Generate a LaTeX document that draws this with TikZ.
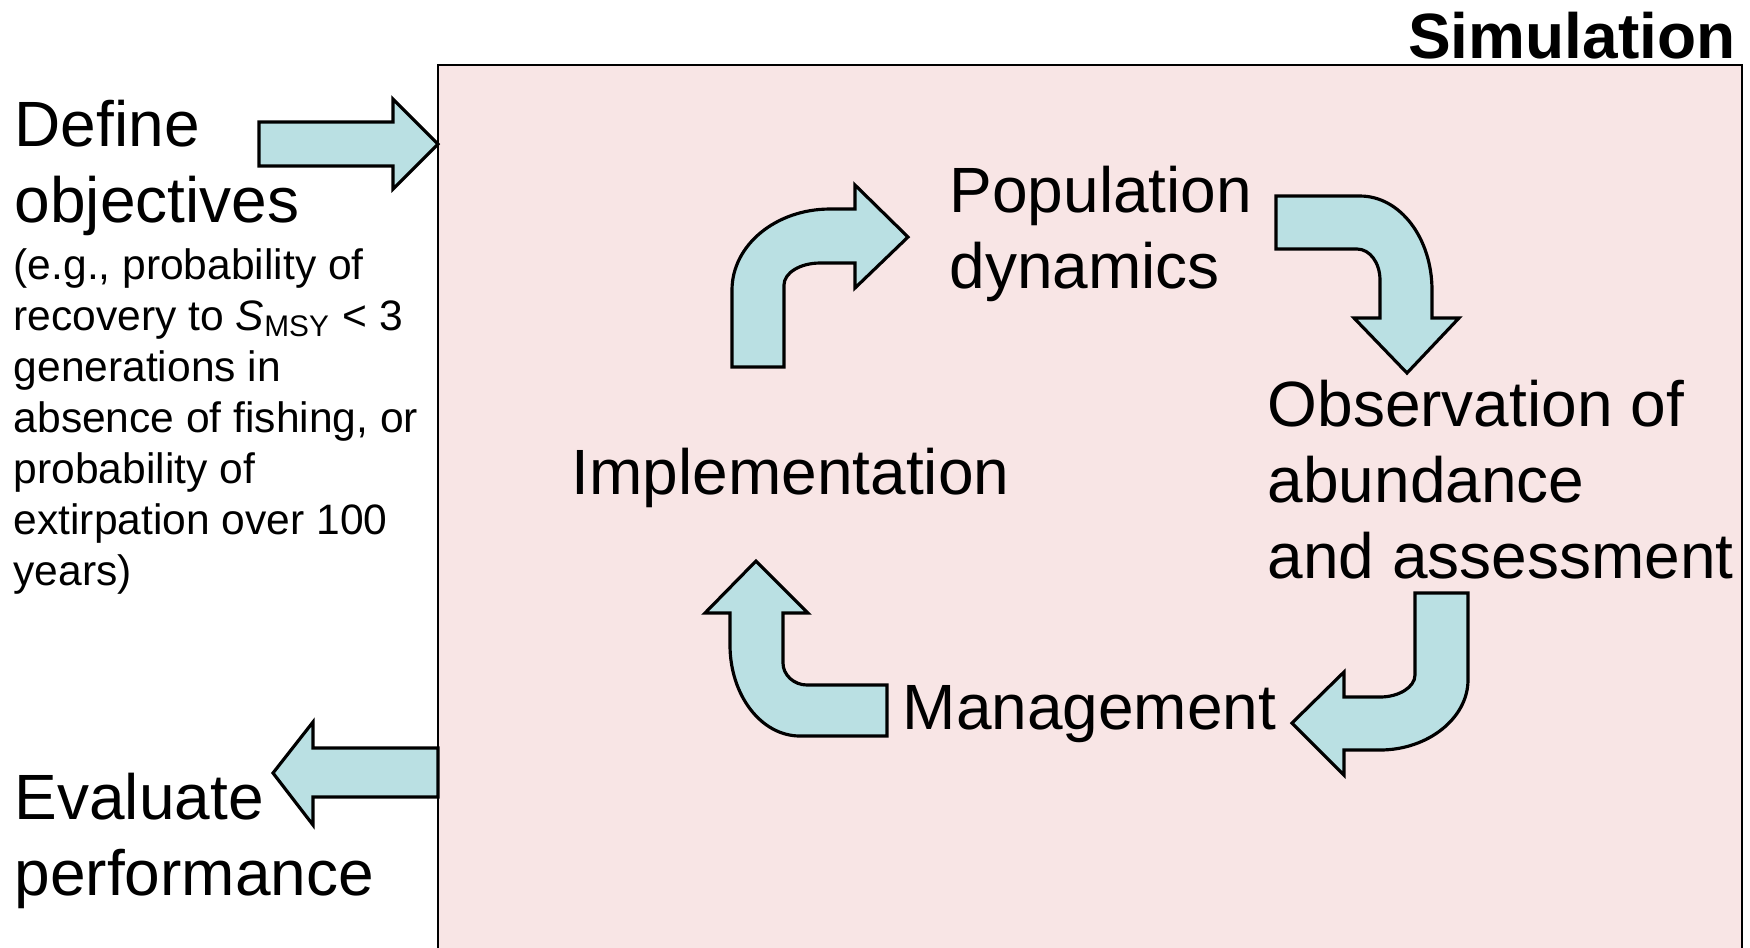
\documentclass[tikz,border=0pt]{standalone}
\usepackage{fontspec}
\setmainfont{Liberation Sans}
\definecolor{simpink}{RGB}{248,229,229}
\definecolor{arrowcyan}{RGB}{186,224,227}
\tikzset{
    blockarrow/.style={draw=black, fill=arrowcyan, line width=0.9pt, line join=miter},
    steplabel/.style={inner sep=0pt, anchor=base west, align=left, font=\fontsize{18.2}{21.6}\selectfont},
    notelabel/.style={inner sep=0pt, anchor=base west, align=left, font=\fontsize{12.1}{14.5}\selectfont}
}

\begin{document}
\begin{tikzpicture}[x=0.01cm, y=-0.01cm]
    \useasboundingbox (0,0) rectangle (1750,947);

    % simulation box
    \draw[fill=simpink, line width=0.8pt] (438,960) -- (438,65) -- (1742,65) -- (1742,960);
    \node[inner sep=0pt, anchor=base east, font=\fontsize{18.2}{21.6}\selectfont\bfseries] (sim) at (1736,58) {Simulation};

    % left side (base = last line)
    \node[steplabel] (define) at (14,222) {Define\\objectives};
    \node[notelabel] (note) at (13,585) {(e.g., probability of\\recovery to \textit{S}\textsubscript{MSY} < 3\\generations in\\absence of fishing, or\\probability of\\extirpation over 100\\years)};
    \node[steplabel] (evaluate) at (14,895) {Evaluate\\performance};

    \draw[blockarrow] (259,122) -- (393,122) -- (393,99) -- (438,144) -- (393,189) -- (393,166) -- (259,166) -- cycle;
    \draw[blockarrow] (438,748) -- (313,748) -- (313,722) -- (273,773) -- (313,825) -- (313,797) -- (438,797) -- cycle;

    % the loop
    \node[steplabel] (popdyn) at (949,288) {Population\\dynamics};
    \node[steplabel] (observe) at (1267,578) {Observation of\\abundance\\and assessment};
    \node[steplabel] (manage) at (902,729) {Management};
    \node[steplabel] (implement) at (571,494) {Implementation};

    \draw[blockarrow] (732,367) -- (732,290) .. controls (732,245) and (776,209) .. (830,209) -- (855,209) -- (855,185) -- (908,237) -- (855,288) -- (855,263) -- (820,263) .. controls (800,263) and (784,273) .. (784,285) -- (784,367) -- cycle;
    \draw[blockarrow] (1276,196) -- (1360,196) .. controls (1400,196) and (1432,238) .. (1432,290) -- (1432,318) -- (1459,318) -- (1407,373) -- (1354,318) -- (1380,318) -- (1380,280) .. controls (1380,263) and (1370,249) .. (1357,249) -- (1276,249) -- cycle;
    \draw[blockarrow] (1415,593) -- (1468,593) -- (1468,680) .. controls (1468,718) and (1428,750) .. (1380,750) -- (1344,750) -- (1344,775) -- (1292,723) -- (1344,672) -- (1344,697) -- (1380,697) .. controls (1399,697) and (1415,687) .. (1415,675) -- cycle;
    \draw[blockarrow] (887,685) -- (807,685) .. controls (794,685) and (783,675) .. (783,663) -- (783,613) -- (808,613) -- (756,561) -- (705,613) -- (730,613) -- (730,645) .. controls (730,695) and (761,736) .. (800,736) -- (887,736) -- cycle;

\end{tikzpicture}
\end{document}
